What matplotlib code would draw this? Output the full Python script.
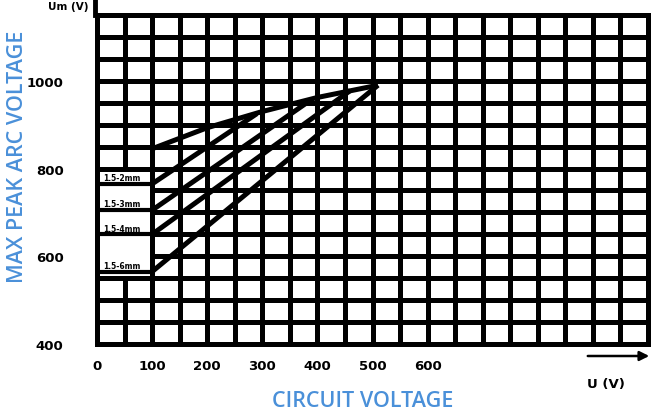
import matplotlib
matplotlib.use("Agg")
import matplotlib.pyplot as plt
from matplotlib.patches import Rectangle

# axis ranges / ticks
x_ticks = list(range(0, 1001, 50))
x_labels = ["0", "", "100", "", "200", "", "300", "", "400", "", "500", "", "600"] + [""] * 8
y_ticks = list(range(400, 1151, 50))
y_labels = ["400", "", "", "", "600", "", "", "", "800", "", "", "", "1000", "", "", ""]

# curves (circuit voltage -> max peak arc voltage)
top_x = [100, 200, 300, 400, 510]
top_y = [845, 893, 930, 962, 990]
line1_x = [100, 290]
line1_y = [765, 925]
line2_x = [100, 390]
line2_y = [705, 958]
line3_x = [100, 460]
line3_y = [650, 978]
line4_x = [100, 510]
line4_y = [565, 990]
curve_labels = ["1.5-2mm", "1.5-3mm", "1.5-4mm", "1.5-6mm"]
label_y = [765, 705, 650, 565]

blue = "#4a90d9"
lw = 3.6

fig = plt.figure(figsize=(6.56, 4.14), dpi=100)
ax = fig.add_axes([97 / 656, 1 - 345 / 414, 551 / 656, 329 / 414])
ax.set_xlim(0, 1000)
ax.set_ylim(400, 1150)

ax.set_xticks(x_ticks)
ax.set_xticklabels(x_labels, fontsize=9.5, fontweight="bold")
ax.set_yticks(y_ticks)
ax.set_yticklabels(y_labels, fontsize=9.5, fontweight="bold")
ax.tick_params(axis="both", length=0)
ax.tick_params(axis="x", pad=11)
ax.tick_params(axis="y", pad=24)
ax.grid(True, color="black", linewidth=lw)
ax.set_axisbelow(True)
for s in ax.spines.values():
    s.set_linewidth(lw)
    s.set_color("black")

# blank box for the curve labels
ax.add_patch(Rectangle((0, 550), 100, 250, facecolor="white", edgecolor="black",
                       linewidth=lw, zorder=2))

for xs, ys in [(top_x, top_y), (line1_x, line1_y), (line2_x, line2_y),
               (line3_x, line3_y), (line4_x, line4_y)]:
    ax.plot(xs, ys, color="black", linewidth=lw, solid_capstyle="butt", zorder=3)

for lab, yv in zip(curve_labels, label_y):
    ax.plot([8, 100], [yv, yv], color="black", linewidth=3, zorder=3)
    ax.text(12, yv + 4, lab, fontsize=5.5, fontweight="bold", ha="left", va="bottom", zorder=3)

# y arrow stub above the plot and header text
fig.add_artist(plt.Line2D([95 / 656, 95 / 656], [1 - 16 / 414, 1.02], color="black", linewidth=3.5))
fig.text(88 / 656, 1 - 7 / 414, "Um (V)", fontsize=7.5, fontweight="bold", ha="right", va="center")

# x direction arrow
ax.annotate("", xy=(652 / 656, 1 - 357 / 414), xytext=(585 / 656, 1 - 357 / 414),
            xycoords="figure fraction", textcoords="figure fraction",
            arrowprops=dict(arrowstyle="-|>", color="black", lw=1.8, mutation_scale=14))
fig.text(606 / 656, 1 - 385 / 414, "U (V)", fontsize=9.5, fontweight="bold", ha="center", va="center")

fig.text(18 / 656, 1 - 157 / 414, "MAX PEAK ARC VOLTAGE", color=blue, fontsize=15.5,
         family="Open Sans", fontweight="semibold", rotation=90, ha="center", va="center")
fig.text(363 / 656, 1 - 402 / 414, "CIRCUIT VOLTAGE", color=blue, fontsize=15.5,
         family="Open Sans", fontweight="semibold", ha="center", va="center")

plt.savefig("out.png", dpi=100)
plt.close()
